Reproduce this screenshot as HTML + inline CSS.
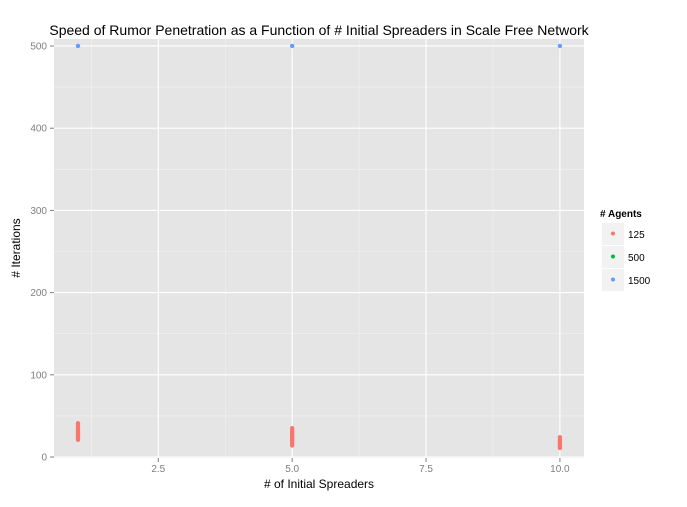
<!DOCTYPE html>
<html><head><meta charset="utf-8"><style>
body{margin:0;background:#fff;font-family:"Liberation Sans",sans-serif}
</style></head><body>
<svg id="c" width="687" height="502" xmlns="http://www.w3.org/2000/svg" font-family="Liberation Sans, sans-serif"></svg>
<script>
const xTicks=[2.5,5.0,7.5,10.0];
const xTickLabels=["2.5","5.0","7.5","10.0"];
const yTicks=[0,100,200,300,400,500];
const seriesNames=["125","500","1500"];
const seriesColors=["#F8766D","#00BA38","#619CFF"];
const s125x=[1,1,1,1,1,1,1,1,1,1,5,5,5,5,5,5,5,5,5,5,5,10,10,10,10,10,10,10];
const s125y=[21,23,25,27,29,31,33,35,38,41,14,16,18,20,22,24,26,28,30,32,35,11,13,15,17,19,21,24];
const s1500x=[1,5,10];
const s1500y=[500,500,500];
const L=54,R=584,T=39,B=458;
const xmin=0.552,xmax=10.45,ymin=-1.2,ymax=508.5;
const X=v=>L+(v-xmin)/(xmax-xmin)*(R-L);
const Y=v=>B-(v-ymin)/(ymax-ymin)*(B-T);
const svg=document.getElementById('c');
function mk(t,a,txt){const e=document.createElementNS('http://www.w3.org/2000/svg',t);for(const k in a)e.setAttribute(k,a[k]);if(txt!==undefined)e.textContent=txt;svg.appendChild(e);return e;}
let e=mk('rect',{x:L,y:T,width:R-L,height:B-T,fill:'#E5E5E5'});


// minor grid
for(let i=0;i<xTicks.length;i++){const m=xTicks[i]-1.25;if(m>xmin){e=mk('line',{x1:X(m),x2:X(m),y1:T,y2:B,stroke:'#F2F2F2','stroke-width':0.6});}}
for(let i=0;i<yTicks.length;i++){const m=yTicks[i]+50;if(m<ymax){e=mk('line',{x1:L,x2:R,y1:Y(m),y2:Y(m),stroke:'#F2F2F2','stroke-width':0.6});}}
for(let i=0;i<xTicks.length;i++){
 e=mk('line',{x1:X(xTicks[i]),x2:X(xTicks[i]),y1:T,y2:B,stroke:'#fff','stroke-width':1.1});
 
 
 e=mk('line',{x1:X(xTicks[i]),x2:X(xTicks[i]),y1:B,y2:B+4,stroke:'#7F7F7F'});
 
 
 e=mk('text',{x:X(xTicks[i]),y:B+14,'text-anchor':'middle','font-size':10,fill:'#7F7F7F'},xTickLabels[i]);
 
 
}
for(let i=0;i<yTicks.length;i++){
 e=mk('line',{x1:L,x2:R,y1:Y(yTicks[i]),y2:Y(yTicks[i]),stroke:'#fff','stroke-width':1.1});
 
 
 e=mk('line',{x1:L-4,x2:L,y1:Y(yTicks[i]),y2:Y(yTicks[i]),stroke:'#7F7F7F'});
 
 
 e=mk('text',{x:L-7,y:Y(yTicks[i])+3.5,'text-anchor':'end','font-size':10,fill:'#7F7F7F'},String(yTicks[i]));
 
 
}
for(let i=0;i<s125x.length;i++){e=mk('circle',{cx:X(s125x[i]),cy:Y(s125y[i]),r:2.2,fill:seriesColors[0]});}
for(let i=0;i<s1500x.length;i++){e=mk('circle',{cx:X(s1500x[i]),cy:Y(s1500y[i]),r:2.2,fill:seriesColors[2]});}
e=mk('text',{x:319,y:35,'text-anchor':'middle','font-size':14,fill:'#000'},'Speed of Rumor Penetration as a Function of # Initial Spreaders in Scale Free Network');


e=mk('text',{x:319,y:488,'text-anchor':'middle','font-size':12,fill:'#000'},'# of Initial Spreaders');


e=mk('text',{x:0,y:0,'text-anchor':'middle','font-size':12,fill:'#000',transform:'translate(20,248) rotate(-90)'},'# Iterations');


e=mk('text',{x:600,y:217,'font-size':10,'font-weight':'bold',fill:'#000'},'# Agents');


for(let i=0;i<seriesNames.length;i++){
 const y0=223+i*23;
 e=mk('rect',{x:602,y:y0,width:22,height:22,fill:'#F2F2F2'});
 
 
 e=mk('circle',{cx:613,cy:y0+10.5,r:2,fill:seriesColors[i]});
 
 
 e=mk('text',{x:628,y:y0+15,'font-size':10,fill:'#000'},seriesNames[i]);
 
 
}
</script>
</body></html>
